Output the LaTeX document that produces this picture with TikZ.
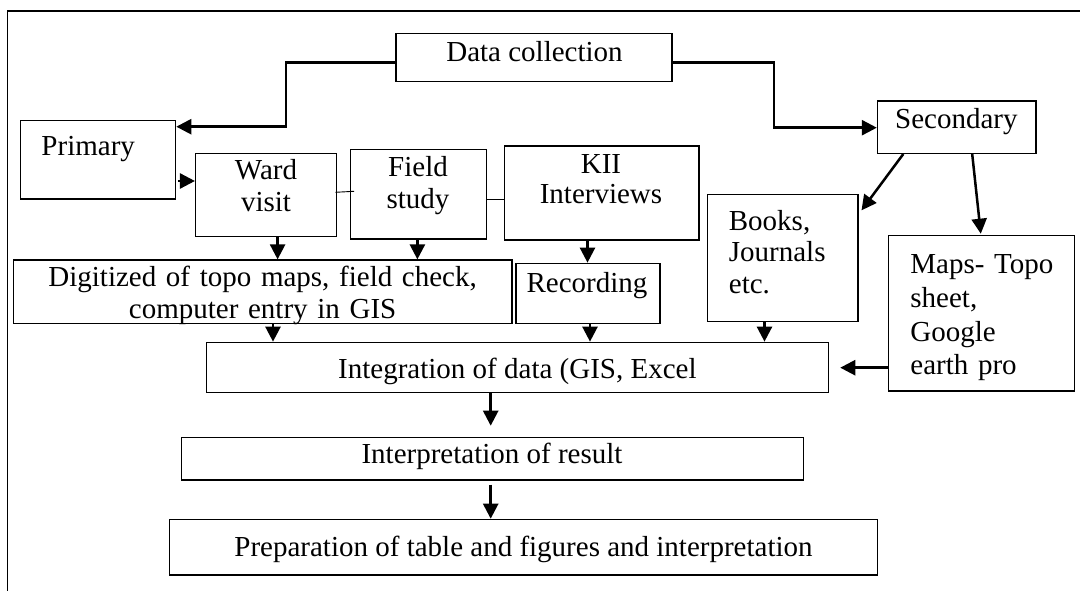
\documentclass[tikz,border=0pt]{standalone}
\usepackage{fontspec}
\setmainfont{Liberation Serif}
\usetikzlibrary{arrows.meta}
\begin{document}
\begin{tikzpicture}[x=1pt,y=-1pt,
  box/.style={draw, line width=1.3pt, inner sep=0pt, rectangle},
  txt/.style={font=\fontsize{29}{31.7}\selectfont, inner sep=0pt},
  arr/.style={line width=2.5pt, -{Triangle[length=15pt,width=15pt]}},
  thinline/.style={line width=0.9pt}]
\useasboundingbox (0,0) rectangle (1080,591);
% frame (cut off)
\draw[line width=1.5pt] (7.6,591) -- (7.6,11) -- (1080,11);

% boxes
\node[box, minimum width=276pt,   minimum height=48.4pt]  (dc)    at (534,57.5)   {};
\node[box, minimum width=154.9pt, minimum height=78.3pt]  (prim)  at (98.2,159.9) {};
\node[box, minimum width=141.2pt, minimum height=83.4pt]  (ward)  at (266.2,195)  {};
\node[box, minimum width=136.4pt, minimum height=89.3pt]  (field) at (418.4,194.4){};
\node[box, minimum width=194.6pt, minimum height=94pt]    (kii)   at (601.8,193)  {};
\node[box, minimum width=158.4pt, minimum height=52.3pt]  (sec)   at (956.7,127.2){};
\node[box, minimum width=150.1pt, minimum height=127.4pt] (books) at (782.8,258)  {};
\node[box, minimum width=186pt,   minimum height=155.3pt] (maps)  at (981.8,313.4){};
\node[box, minimum width=498.2pt, minimum height=63.3pt]  (dig)   at (262.9,291.7){};
\node[box, minimum width=144pt,   minimum height=60pt]    (rec)   at (588,293.3)  {};
\node[box, minimum width=622pt,   minimum height=50.4pt]  (integ) at (517.6,367.5){};
\node[box, minimum width=621.6pt, minimum height=42.7pt]  (interp) at (492.6,458.7){};
\node[box, minimum width=707.7pt, minimum height=55.7pt]  (prep)  at (523.6,547.2){};

% texts
\node[txt, anchor=base] at (534.5,61.7) {Data collection};
\node[txt, anchor=base west] at (41.3,156) {Primary};
\node[txt, anchor=base, text width=140pt, align=center] at (266,180) {Ward\\visit};
\node[txt, anchor=base, text width=136pt, align=center] at (418,176.7) {Field\\study};
\node[txt, anchor=base, text width=190pt, align=center, font=\fontsize{29}{30.7}\selectfont] at (601,173.3) {KII\\Interviews};
\node[txt, anchor=base] at (956.4,128.3) {Secondary};
\node[txt, anchor=base west, text width=140pt, align=left] at (728.7,230) {Books,\\Journals\\etc.};
\node[txt, anchor=base west, text width=170pt, align=left, font=\fontsize{29}{33.9}\selectfont] at (910.2,273.3) {Maps- Topo\\sheet,\\Google\\earth pro};
\node[txt, anchor=base, text width=495pt, align=center, font=\fontsize{29}{31.6}\selectfont] at (262.6,286.7) {Digitized of topo maps, field check,\\computer entry in GIS};
\node[txt, anchor=base] at (587,292) {Recording};
\node[txt, anchor=base] at (517.4,378.3) {Integration of data (GIS, Excel};
\node[txt, anchor=base] at (492,463.3) {Interpretation of result};
\node[txt, anchor=base] at (523.5,556.7) {Preparation of table and figures and interpretation};

% helper coordinates
\coordinate (pA) at (285.8,62.7);
\coordinate (pB) at (285.8,126.7);
\coordinate (pC) at (774.2,62.3);
\coordinate (pD) at (774.2,127.7);
\coordinate (yPW) at (0,181);
\coordinate (xW) at (277.6,0);
\coordinate (xF) at (417.4,0);
\coordinate (xK) at (587.5,0);
\coordinate (xSB) at (903.3,0);
\coordinate (xSM1) at (972.2,0);
\coordinate (xSM2) at (980.8,0);
\coordinate (yMI) at (0,367.7);
\coordinate (xD) at (273,0);
\coordinate (xR) at (590,0);
\coordinate (xB) at (764.5,0);
\coordinate (xI) at (490.7,0);
\coordinate (yFK) at (0,199);

% connectors
\draw[arr] (dc.west |- pA) -- (pA) -- (pB) -- (prim.east |- pB);
\draw[arr] (dc.east |- pC) -- (pC) -- (pD) -- (sec.west |- pD);
\draw[arr] ([xshift=1.5pt]prim.east |- yPW) -- (ward.west |- yPW);
\draw[thinline] ([xshift=-2pt,yshift=2.7pt]ward.east) -- ([xshift=4.5pt,yshift=3.1pt]field.west);
\draw[thinline] (field.east |- yFK) -- (kii.west |- yFK);
\draw[arr] (ward.south -| xW) -- (dig.north -| xW);
\draw[arr] (field.south -| xF) -- (dig.north -| xF);
\draw[arr] (kii.south -| xK) -- (rec.north -| xK);
\draw[arr] (sec.south -| xSB) -- ([shift={(3pt,-16.7pt)}]books.north east);
\draw[arr] (sec.south -| xSM1) -- ([yshift=1.4pt]maps.north -| xSM2);
\draw[arr] (maps.west |- yMI) -- ([xshift=11pt]integ.east |- yMI);
\draw[arr] (dig.south -| xD) -- (integ.north -| xD);
\draw[arr] (rec.south -| xR) -- (integ.north -| xR);
\draw[arr] (books.south -| xB) -- (integ.north -| xB);
\draw[arr, shorten >=11pt] (integ.south -| xI) -- (interp.north -| xI);
\draw[arr, shorten <=4pt] (interp.south -| xI) -- (prep.north -| xI);
\end{tikzpicture}
\end{document}
